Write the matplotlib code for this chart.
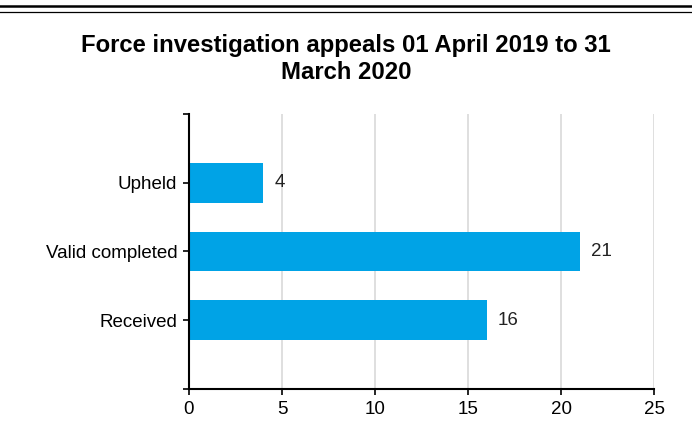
import matplotlib.pyplot as plt
from matplotlib.lines import Line2D

categories = ["Received", "Valid completed", "Upheld"]
counts = [16, 21, 4]
x_ticks = [0, 5, 10, 15, 20, 25]
title = "Force investigation appeals 01 April 2019 to 31\nMarch 2020"

plt.rcParams['font.family'] = ['Liberation Sans', 'DejaVu Sans']

fig = plt.figure(figsize=(6.92, 4.43), dpi=100)
ax = fig.add_axes([0.2731, 0.1219, 0.9455 - 0.2731, 0.7427 - 0.1219])

ypos = list(range(len(categories)))
ax.barh(ypos, counts, height=0.58, color="#00a3e6", zorder=3)
for y, v in zip(ypos, counts):
    ax.annotate(str(v), (v, y), xytext=(8, 0), textcoords="offset points",
                va="center", ha="left", fontsize=13.5, color="#222222")

ax.set_xlim(0, 25)
ax.set_ylim(-1, 3)
ax.set_xticks(x_ticks)
ax.set_yticks([-1] + ypos + [3])
ax.set_yticklabels([""] + categories + [""])
ax.tick_params(axis="both", labelsize=13.5, length=4.5, width=1.2, colors="black")
ax.tick_params(axis="x", pad=4)
ax.tick_params(axis="y", pad=4)

ax.grid(axis="x", color="#d9d9d9", linewidth=1.2, zorder=0)
for s in ["top", "right"]:
    ax.spines[s].set_visible(False)
for s in ["left", "bottom"]:
    ax.spines[s].set_linewidth(1.5)
    ax.spines[s].set_zorder(4)

fig.text(0.5, 1 - 59 / 443, title, ha="center", va="center",
         fontsize=17.2, fontweight="bold", linespacing=1.25)

# double rule at the top
fig.add_artist(Line2D([0, 1], [1 - 5.7 / 443] * 2, color="black", linewidth=1.8))
fig.add_artist(Line2D([0, 1], [1 - 12.3 / 443] * 2, color="black", linewidth=0.9))

fig.savefig("out.png", dpi=100)
